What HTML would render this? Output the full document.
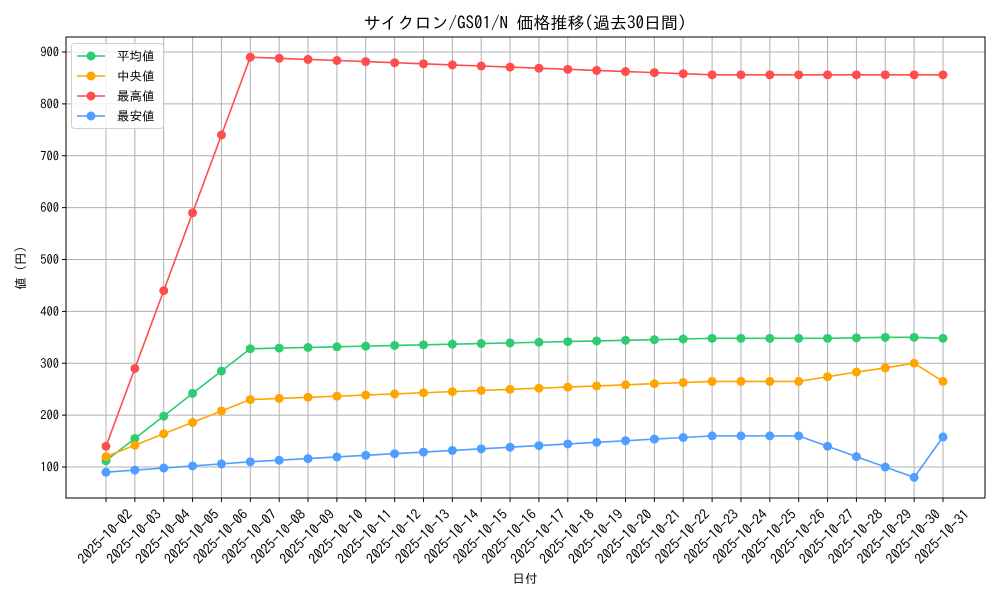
<!DOCTYPE html>
<html><head><meta charset="utf-8"><style>
body{margin:0;background:#fff}
svg text{font-family:"IPAGothic","Noto Sans CJK JP",sans-serif;fill:#000}
</style></head><body>
<svg id="s" width="1000" height="600" xmlns="http://www.w3.org/2000/svg"></svg>
<script>
const L=66,R=985,T=37,B=498;
const x0=106,dx=(943-106)/29;
const Y=v=>467-(v-100)*0.51875;
let avg=[112,155,198,242,285,328],med=[120,142,164,186,208,230],mx=[140,290,440,590,740,890],mn=[90,94,98,102,106,110];
for(let i=6;i<=21;i++){let k=i-5;avg.push(328+k*20/16);med.push(230+k*35/16);mx.push(890-k*34/16);mn.push(110+k*50/16);}
avg.push(348,348,348,348,349,350,350,348);
med.push(265,265,265,274,283,291,300,265);
mx.push(856,856,856,856,856,856,856,856);
mn.push(160,160,160,140,120,100,80,158);
avg=avg.slice(0,30);med=med.slice(0,30);mx=mx.slice(0,30);mn=mn.slice(0,30);
let h='';
for(let i=0;i<30;i++){let x=x0+i*dx;h+=`<line x1="${x}" y1="${T}" x2="${x}" y2="${B}" stroke="#b0b0b0" stroke-width="1"/>`;}
for(let v=100;v<=900;v+=100){let y=Y(v);h+=`<line x1="${L}" y1="${y}" x2="${R}" y2="${y}" stroke="#b0b0b0" stroke-width="1"/><line x1="${L-4}" y1="${y}" x2="${L}" y2="${y}" stroke="#000"/><text x="${L-7}" y="${y+4.5}" font-size="12.5" text-anchor="end">${v}</text>`;}
function ser(d,c){let p=d.map((v,i)=>`${x0+i*dx},${Y(v)}`).join(' ');let s=`<polyline points="${p}" fill="none" stroke="${c}" stroke-width="1.6"/>`;d.forEach((v,i)=>s+=`<circle cx="${x0+i*dx}" cy="${Y(v)}" r="4.5" fill="${c}"/>`);return s;}
h+=ser(avg,'#2ecc71')+ser(med,'#ffa500')+ser(mx,'#ff4d4d')+ser(mn,'#4d9eff');
h+=`<rect x="${L}" y="${T}" width="${R-L}" height="${B-T}" fill="none" stroke="#000" stroke-width="1"/>`;
for(let i=0;i<30;i++){let x=x0+i*dx;let d=String(i+2).padStart(2,'0');h+=`<line x1="${x}" y1="${B}" x2="${x}" y2="${B+4}" stroke="#000"/><text transform="translate(${x+2.5},${B+42}) rotate(-45)" font-size="14" text-anchor="middle">2025-10-${d}</text>`;}
h+=`<rect x="71.5" y="43.5" width="92" height="85" rx="3" fill="#fff" fill-opacity="0.8" stroke="#d0d0d0"/>`;
[['平均値','#2ecc71'],['中央値','#ffa500'],['最高値','#ff4d4d'],['最安値','#4d9eff']].forEach((e,i)=>{let y=56+i*20;h+=`<line x1="77" y1="${y}" x2="105" y2="${y}" stroke="${e[1]}" stroke-width="1.6"/><circle cx="91" cy="${y}" r="4.5" fill="${e[1]}"/><text x="117" y="${y+4.5}" font-size="12.5">${e[0]}</text>`;});
h+=`<text x="525" y="29" font-size="17" text-anchor="middle">サイクロン/GS01/N 価格推移(過去30日間)</text>`;
h+=`<text x="525" y="583" font-size="12.5" text-anchor="middle">日付</text>`;
h+=`<text transform="translate(25,268) rotate(-90)" font-size="12.5" text-anchor="middle">値 (円)</text>`;
document.getElementById('s').innerHTML=h;
</script>
</body></html>
